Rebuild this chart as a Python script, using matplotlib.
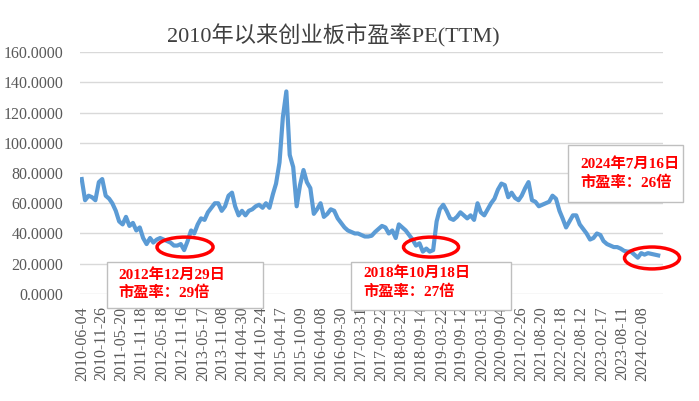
import numpy as np
import pandas as pd
from matplotlib import pyplot as plt
import matplotlib.dates as mdates
from matplotlib.patches import Ellipse, Rectangle

plt.rcParams['font.family'] = ['Liberation Serif', 'Noto Sans CJK SC']

# monthly ChiNext PE(TTM), 2010-06 .. 2024-07
pe_2010 = [76, 62, 65, 64, 62, 74, 76]
pe_2011 = [65, 63, 60, 55, 48, 46, 51, 45, 47, 42, 44, 37]
pe_2012 = [33, 37, 34, 36, 37, 36, 35, 34, 32, 32, 33, 29]
pe_2013 = [35, 42, 40, 46, 50, 49, 54, 57, 60, 60, 55, 58]
pe_2014 = [65, 67, 58, 52, 55, 52, 55, 56, 58, 59, 57, 60]
pe_2015 = [57, 66, 73, 87, 117, 134, 92, 84, 58, 72, 82, 74]
pe_2016 = [70, 53, 56, 60, 51, 53, 56, 55, 50, 47, 44, 42]
pe_2017 = [41, 40, 40, 39, 38, 38, 38.5, 41, 43, 45, 44, 40]
pe_2018 = [42, 37, 46, 44, 42, 39, 36, 32, 33.5, 28, 30, 28]
pe_2019 = [29, 48, 56, 59, 55, 50, 49, 51, 54, 52, 50, 52]
pe_2020 = [49, 60, 54, 52, 56, 60, 63, 69, 73, 72, 64, 67]
pe_2021 = [63.5, 62, 65, 70, 74, 62, 61, 58, 59, 60, 61, 65]
pe_2022 = [63, 55, 50, 44, 48, 52, 52, 46, 43, 40, 36, 37]
pe_2023 = [40, 39, 35, 33, 32, 31, 31, 30, 28.5, 28, 28, 26]
pe_2024 = [24, 27, 26, 27, 26.5, 26, 25.5]

pe = (pe_2010 + pe_2011 + pe_2012 + pe_2013 + pe_2014 + pe_2015 + pe_2016 +
      pe_2017 + pe_2018 + pe_2019 + pe_2020 + pe_2021 + pe_2022 + pe_2023 + pe_2024)
dates = pd.date_range('2010-06-01', periods=len(pe), freq='MS')

tick_labels = ['2010-06-04', '2010-11-26', '2011-05-20', '2011-11-18', '2012-05-18',
               '2012-11-16', '2013-05-17', '2013-11-08', '2014-04-30', '2014-10-24',
               '2015-04-17', '2015-10-09', '2016-04-08', '2016-09-30', '2017-03-31',
               '2017-09-22', '2018-03-23', '2018-09-14', '2019-03-22', '2019-09-12',
               '2020-03-13', '2020-09-04', '2021-02-26', '2021-08-20', '2022-02-18',
               '2022-08-12', '2023-02-17', '2023-08-11', '2024-02-08']

# (center date, center value, width days, height value)
circles = [('2012-12-09', 31, 500, 13.2),
           ('2018-12-13', 31, 491, 13.2),
           ('2024-05-07', 23.8, 491, 14.5)]

notes = [('2012年12月29日', '市盈率：29倍'),
         ('2018年10月18日', '市盈率：27倍'),
         ('2024年7月16日', '市盈率：26倍')]
# boxes in figure fraction: x0, y0, w, h, text x, line1 y, line2 y
note_boxes = [(0.1531, 0.2319, 0.2232, 0.1147, 0.1688, 0.314, 0.2693),
              (0.5021, 0.2269, 0.2289, 0.1197, 0.5193, 0.319, 0.2718),
              (0.8126, 0.4963, 0.1645, 0.1421, 0.8298, 0.591, 0.5436)]

fig = plt.figure(figsize=(6.99, 4.01), dpi=100)
ax = fig.add_axes([0.1145, 0.267, 0.834, 0.603])

ax.plot(dates, pe, color='#5B9BD5', lw=3, solid_joinstyle='round', zorder=3)

ax.set_ylim(0, 160)
ax.set_yticks(np.arange(0, 161, 20))
ax.set_yticklabels(['%.4f' % v for v in np.arange(0, 161, 20)])
ax.set_xlim(pd.Timestamp('2010-05-17'), pd.Timestamp('2024-08-13'))
ax.set_xticks(pd.to_datetime(tick_labels))
ax.set_xticklabels(tick_labels, rotation=90)
ax.grid(axis='y', color='#D9D9D9', lw=1)
ax.set_axisbelow(True)
for s in ax.spines.values():
    s.set_visible(False)
ax.tick_params(axis='y', length=0, pad=12, labelsize=11.5, labelcolor='#595959')
ax.tick_params(axis='x', length=0, pad=9, labelsize=11.5, labelcolor='#595959')

for d, v, w, h in circles:
    e = Ellipse((mdates.date2num(pd.Timestamp(d)), v), width=w, height=h,
                fill=False, edgecolor='#FF0000', lw=2.5, clip_on=False, zorder=5)
    ax.add_patch(e)

fig.text(0.477, 0.913, '2010年以来创业板市盈率PE(TTM)', ha='center', va='center',
         fontsize=16, color='#404040')

for (l1, l2), (x0, y0, w, h, tx, ty1, ty2) in zip(notes, note_boxes):
    fig.patches.append(Rectangle((x0, y0), w, h, transform=fig.transFigure,
                                 facecolor='white', edgecolor='#BFBFBF', lw=1, zorder=6))
    fig.text(tx, ty1, l1, va='center', fontsize=11, color='#FF0000',
             fontweight='bold', zorder=7)
    fig.text(tx, ty2, l2, va='center', fontsize=11, color='#FF0000',
             fontweight='bold', zorder=7)

plt.savefig('out.png', dpi=100)
